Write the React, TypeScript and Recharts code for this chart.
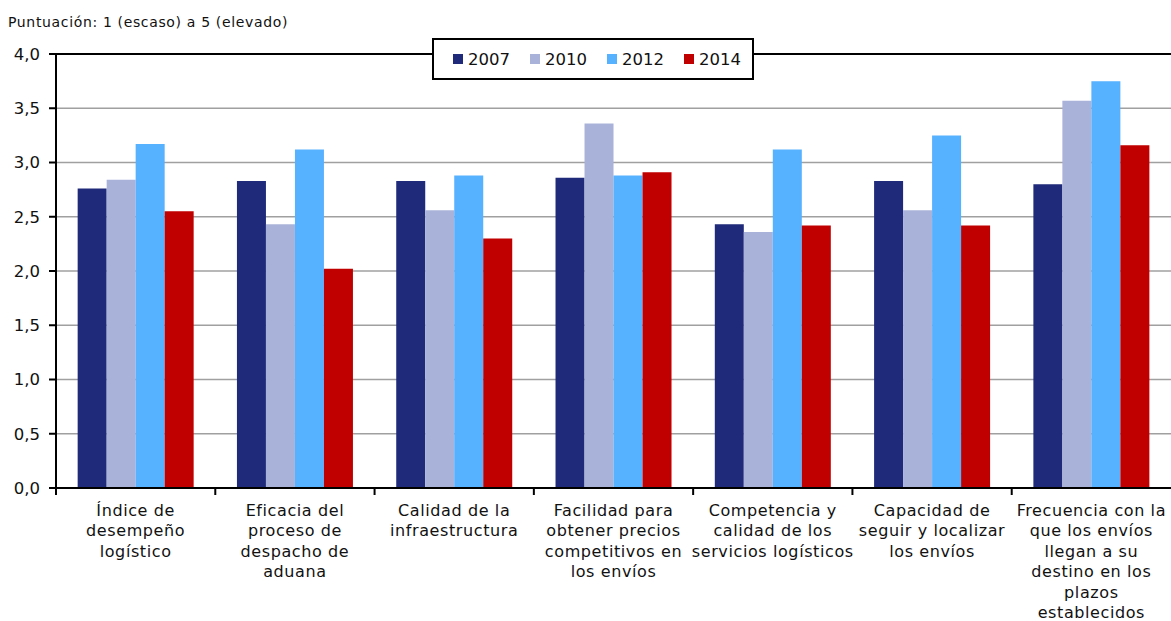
import { Bar, BarChart, CartesianGrid, ReferenceLine, XAxis, YAxis } from "recharts";

const categories = [
  "Índice de\ndesempeño\nlogístico",
  "Eficacia del\nproceso de\ndespacho de\naduana",
  "Calidad de la\ninfraestructura",
  "Facilidad para\nobtener precios\ncompetitivos en\nlos envíos",
  "Competencia y\ncalidad de los\nservicios logísticos",
  "Capacidad de\nseguir y localizar\nlos envíos",
  "Frecuencia con la\nque los envíos\nllegan a su\ndestino en los\nplazos\nestablecidos",
];

const years = ["2007", "2010", "2012", "2014"];
const colors = ["#1f2a7a", "#a9b3d9", "#56b1ff", "#c00000"];

const v2007 = [2.76, 2.83, 2.83, 2.86, 2.43, 2.83, 2.8];
const v2010 = [2.84, 2.43, 2.56, 3.36, 2.36, 2.56, 3.57];
const v2012 = [3.17, 3.12, 2.88, 2.88, 3.12, 3.25, 3.75];
const v2014 = [2.55, 2.02, 2.3, 2.91, 2.42, 2.42, 3.16];

const yTicks = [0, 0.5, 1, 1.5, 2, 2.5, 3, 3.5, 4];

const series = [v2007, v2010, v2012, v2014];
const data = categories.map((name, i) => {
  const row: Record<string, string | number> = { name };
  years.forEach((y, k) => (row[y] = series[k][i]));
  return row;
});

const FONT = "'DejaVu Sans', Verdana, sans-serif";

const CatTick = (props: any) => {
  const { x, y, payload } = props;
  const half = payload.offset ?? 79.6;
  const lines = String(payload.value).split("\n");
  return (
    <g>
      <line x1={x - half} x2={x - half} y1={y - 7} y2={y} stroke="#000" strokeWidth={2} />
      <text x={x} y={y} textAnchor="middle" fontSize={16} letterSpacing={0.6} fontFamily={FONT} fill="#111">
        {lines.map((l, i) => (
          <tspan key={i} x={x} dy={i === 0 ? 21 : 20.4}>
            {l}
          </tspan>
        ))}
      </text>
    </g>
  );
};

export default function App() {
  return (
    <div style={{ position: "absolute", left: 0, top: 0, width: 1171, height: 621, background: "#fff", fontFamily: FONT }}>
      <div
        style={{
          position: "absolute",
          left: 8,
          top: 14,
          fontSize: 14,
          letterSpacing: 0.65,
          lineHeight: "16px",
          color: "#111",
        }}
      >
        Puntuación: 1 (escaso) a 5 (elevado)
      </div>
      <BarChart
        width={1171}
        height={621}
        data={data}
        margin={{ top: 54, right: 0, left: 0, bottom: 0 }}
        barCategoryGap="13.6%"
        barGap={0}
      >
        <CartesianGrid vertical={false} stroke="#a0a0a0" strokeWidth={1.5} />
        <YAxis
          width={56}
          domain={[0, 4]}
          ticks={yTicks}
          interval={0}
          tickFormatter={(v: number) => v.toFixed(1).replace(".", ",")}
          tick={{ fontSize: 16.5, fill: "#111", fontFamily: FONT }}
          tickSize={7}
          tickMargin={9}
          axisLine={{ stroke: "#000", strokeWidth: 2 }}
          tickLine={{ stroke: "#000", strokeWidth: 2 }}
        />
        <XAxis
          dataKey="name"
          height={133}
          interval={0}
          tickSize={7}
          tickMargin={0}
          tickLine={false}
          axisLine={{ stroke: "#000", strokeWidth: 2 }}
          tick={<CatTick />}
        />
        <ReferenceLine y={4} stroke="#000" strokeWidth={2} />
        {years.map((y, k) => (
          <Bar key={y} dataKey={y} fill={colors[k]} isAnimationActive={false} />
        ))}
      </BarChart>
      <div
        style={{
          position: "absolute",
          left: 432,
          top: 38,
          width: 322,
          height: 42,
          boxSizing: "border-box",
          border: "2px solid #000",
          background: "#fff",
          display: "flex",
          alignItems: "center",
          paddingLeft: 19,
          fontSize: 16.5,
          color: "#111",
        }}
      >
        {years.map((y, k) => (
          <div key={y} style={{ display: "flex", alignItems: "center", marginRight: 20 }}>
            <span style={{ display: "inline-block", width: 10, height: 10, background: colors[k], marginRight: 5 }} />
            <span>{y}</span>
          </div>
        ))}
      </div>
    </div>
  );
}
